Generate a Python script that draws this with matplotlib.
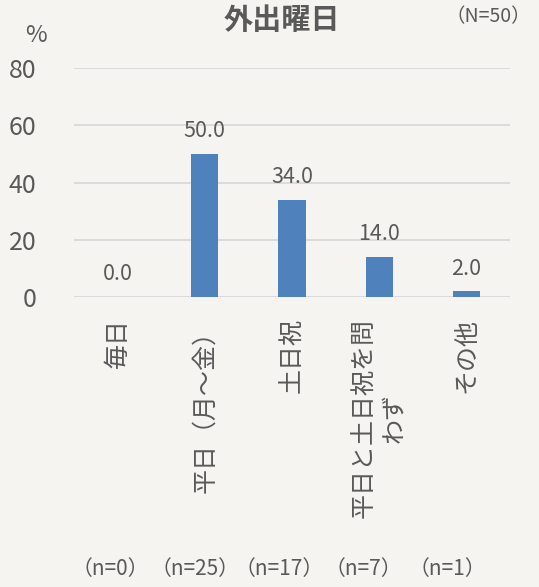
import matplotlib
matplotlib.use("Agg")
import matplotlib.pyplot as plt
from matplotlib.transforms import blended_transform_factory

plt.rcParams['font.family'] = ['Noto Sans CJK JP', 'DejaVu Sans']

categories = ["毎日", "平日（月～金）", "土日祝", "平日と土日祝を問\nわず", "その他"]
values = [0.0, 50.0, 34.0, 14.0, 2.0]
counts = ["（n=0）", "（n=25）", "（n=17）", "（n=7）", "（n=1）"]
yticks = [0, 20, 40, 60, 80]
title = "外出曜日"
total_label = "（N=50）"

BG = "#f5f4f0"
BAR = "#4f81bd"
TXT = "#595959"
GRID = "#d9d9d9"

fig = plt.figure(figsize=(5.39, 5.87), dpi=100, facecolor=BG)
ax = fig.add_axes([0.1373, 0.494, 0.8089, 0.390], facecolor=BG)

x = list(range(len(categories)))
bars = ax.bar(x, values, width=0.31, color=BAR, zorder=3)
ax.set_xlim(-0.5, len(categories) - 0.5)
ax.set_ylim(0, 80)
ax.set_yticks(yticks)
ax.set_yticklabels([str(v) for v in yticks], fontsize=18, color=TXT)
ax.yaxis.grid(True, color=GRID, linewidth=1.3, zorder=0)
for s in ax.spines.values():
    s.set_visible(False)
ax.tick_params(axis='y', length=0, pad=27)
ax.tick_params(axis='x', length=0, pad=15)
ax.set_xticks(x)
ax.set_xticklabels(categories, rotation=90, fontsize=18, color=TXT,
                   va='top', ha='center', multialignment='center')

for xi, v in zip(x, values):
    ax.annotate(f"{v:.1f}", (xi, v), xytext=(0, 12), textcoords='offset points',
                ha='center', va='baseline', fontsize=15.5, color=TXT)

fig.text(0.522, 0.966, title, ha='center', va='center', fontsize=21,
         fontweight='bold', color=TXT)
fig.text(0.985, 0.972, total_label, ha='right', va='center', fontsize=14, color=TXT)
fig.text(0.067, 0.940, "%", ha='center', va='center', fontsize=17, color=TXT)

tr = blended_transform_factory(ax.transData, fig.transFigure)
for i, c in enumerate(counts):
    ax.text(i - 0.08 - 0.035 * i, 0.031, c, transform=tr, ha='center', va='center',
            fontsize=15, color=TXT)

fig.savefig("out.png", dpi=100, facecolor=BG)
